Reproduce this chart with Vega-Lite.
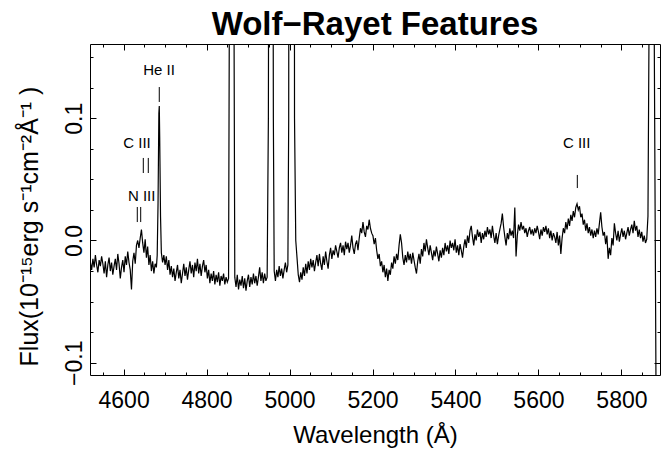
{
  "$schema": "https://vega.github.io/schema/vega-lite/v6.json",
  "width": 570,
  "height": 331,
  "autosize": {"type": "none"},
  "padding": {"left": 90, "top": 44, "right": 1, "bottom": 79},
  "background": "white",
  "title": {
    "text": "Wolf−Rayet Features",
    "font": "Liberation Sans",
    "fontSize": 33,
    "fontWeight": "bold",
    "color": "black",
    "anchor": "middle",
    "frame": "group",
    "baseline": "alphabetic",
    "offset": 8,
    "dy": 32
  },
  "config": {
    "view": {"stroke": "black", "strokeWidth": 1},
    "axis": {
      "domain": false,
      "grid": false,
      "tickColor": "black",
      "tickWidth": 1,
      "labelFont": "Liberation Sans",
      "labelFontSize": 23,
      "labelColor": "black",
      "labelOverlap": false,
      "titleFont": "Liberation Sans",
      "titleFontWeight": "normal",
      "titleColor": "black"
    }
  },
  "datasets": {
    "spectrum": [
      {"wavelength": 4520, "flux": -0.018}, {"wavelength": 4523, "flux": -0.024}, {"wavelength": 4526, "flux": -0.015},
      {"wavelength": 4529, "flux": -0.022}, {"wavelength": 4532, "flux": -0.012}, {"wavelength": 4535, "flux": -0.020},
      {"wavelength": 4538, "flux": -0.026}, {"wavelength": 4541, "flux": -0.016}, {"wavelength": 4544, "flux": -0.021},
      {"wavelength": 4547, "flux": -0.013}, {"wavelength": 4550, "flux": -0.019}, {"wavelength": 4553, "flux": -0.027},
      {"wavelength": 4556, "flux": -0.017}, {"wavelength": 4559, "flux": -0.030}, {"wavelength": 4562, "flux": -0.020},
      {"wavelength": 4565, "flux": -0.014}, {"wavelength": 4568, "flux": -0.025}, {"wavelength": 4571, "flux": -0.018},
      {"wavelength": 4574, "flux": -0.028}, {"wavelength": 4577, "flux": -0.021}, {"wavelength": 4580, "flux": -0.015},
      {"wavelength": 4583, "flux": -0.024}, {"wavelength": 4586, "flux": -0.011}, {"wavelength": 4589, "flux": -0.019},
      {"wavelength": 4592, "flux": -0.031}, {"wavelength": 4595, "flux": -0.022}, {"wavelength": 4598, "flux": -0.016},
      {"wavelength": 4601, "flux": -0.026}, {"wavelength": 4604, "flux": -0.013}, {"wavelength": 4607, "flux": -0.020},
      {"wavelength": 4610, "flux": -0.009}, {"wavelength": 4613, "flux": -0.018}, {"wavelength": 4616, "flux": -0.024},
      {"wavelength": 4619, "flux": -0.040}, {"wavelength": 4622, "flux": -0.017}, {"wavelength": 4625, "flux": -0.010},
      {"wavelength": 4628, "flux": -0.019}, {"wavelength": 4631, "flux": -0.004}, {"wavelength": 4634, "flux": 0.000},
      {"wavelength": 4637, "flux": -0.006}, {"wavelength": 4640, "flux": 0.002}, {"wavelength": 4643, "flux": 0.009},
      {"wavelength": 4646, "flux": -0.002}, {"wavelength": 4649, "flux": -0.010}, {"wavelength": 4652, "flux": 0.001},
      {"wavelength": 4655, "flux": -0.014}, {"wavelength": 4658, "flux": -0.005}, {"wavelength": 4661, "flux": -0.020},
      {"wavelength": 4664, "flux": -0.012}, {"wavelength": 4667, "flux": -0.025}, {"wavelength": 4670, "flux": -0.017},
      {"wavelength": 4673, "flux": -0.027}, {"wavelength": 4676, "flux": -0.019}, {"wavelength": 4679, "flux": -0.022},
      {"wavelength": 4681, "flux": -0.012}, {"wavelength": 4683, "flux": 0.030}, {"wavelength": 4685, "flux": 0.104},
      {"wavelength": 4686, "flux": 0.110}, {"wavelength": 4687, "flux": 0.085}, {"wavelength": 4689, "flux": 0.020},
      {"wavelength": 4691, "flux": -0.010}, {"wavelength": 4694, "flux": -0.018}, {"wavelength": 4697, "flux": -0.012},
      {"wavelength": 4700, "flux": -0.020}, {"wavelength": 4703, "flux": -0.013}, {"wavelength": 4706, "flux": -0.024},
      {"wavelength": 4709, "flux": -0.016}, {"wavelength": 4712, "flux": -0.028}, {"wavelength": 4715, "flux": -0.021},
      {"wavelength": 4718, "flux": -0.030}, {"wavelength": 4721, "flux": -0.023}, {"wavelength": 4724, "flux": -0.033},
      {"wavelength": 4727, "flux": -0.026}, {"wavelength": 4730, "flux": -0.020}, {"wavelength": 4733, "flux": -0.031},
      {"wavelength": 4736, "flux": -0.024}, {"wavelength": 4739, "flux": -0.035}, {"wavelength": 4742, "flux": -0.027},
      {"wavelength": 4745, "flux": -0.019}, {"wavelength": 4748, "flux": -0.029}, {"wavelength": 4751, "flux": -0.022},
      {"wavelength": 4754, "flux": -0.032}, {"wavelength": 4757, "flux": -0.024}, {"wavelength": 4760, "flux": -0.017},
      {"wavelength": 4763, "flux": -0.027}, {"wavelength": 4766, "flux": -0.020}, {"wavelength": 4769, "flux": -0.030},
      {"wavelength": 4772, "flux": -0.018}, {"wavelength": 4775, "flux": -0.025}, {"wavelength": 4778, "flux": -0.015},
      {"wavelength": 4781, "flux": -0.027}, {"wavelength": 4784, "flux": -0.019}, {"wavelength": 4787, "flux": -0.029},
      {"wavelength": 4790, "flux": -0.021}, {"wavelength": 4793, "flux": -0.016}, {"wavelength": 4796, "flux": -0.026},
      {"wavelength": 4799, "flux": -0.020}, {"wavelength": 4802, "flux": -0.031}, {"wavelength": 4805, "flux": -0.024},
      {"wavelength": 4808, "flux": -0.035}, {"wavelength": 4811, "flux": -0.027}, {"wavelength": 4814, "flux": -0.033},
      {"wavelength": 4817, "flux": -0.025}, {"wavelength": 4820, "flux": -0.036}, {"wavelength": 4823, "flux": -0.028},
      {"wavelength": 4826, "flux": -0.034}, {"wavelength": 4829, "flux": -0.026}, {"wavelength": 4832, "flux": -0.037},
      {"wavelength": 4835, "flux": -0.029}, {"wavelength": 4838, "flux": -0.033}, {"wavelength": 4841, "flux": -0.027},
      {"wavelength": 4844, "flux": -0.036}, {"wavelength": 4847, "flux": -0.030}, {"wavelength": 4850, "flux": -0.034},
      {"wavelength": 4853, "flux": -0.031}, {"wavelength": 4855, "flux": 0.200}, {"wavelength": 4858, "flux": 1.000},
      {"wavelength": 4861, "flux": 1.500}, {"wavelength": 4864, "flux": 1.000}, {"wavelength": 4866, "flux": 0.200},
      {"wavelength": 4868, "flux": -0.030}, {"wavelength": 4871, "flux": -0.038}, {"wavelength": 4874, "flux": -0.028},
      {"wavelength": 4877, "flux": -0.040}, {"wavelength": 4880, "flux": -0.032}, {"wavelength": 4883, "flux": -0.037},
      {"wavelength": 4886, "flux": -0.029}, {"wavelength": 4889, "flux": -0.039}, {"wavelength": 4892, "flux": -0.031},
      {"wavelength": 4895, "flux": -0.041}, {"wavelength": 4898, "flux": -0.033}, {"wavelength": 4901, "flux": -0.028},
      {"wavelength": 4904, "flux": -0.038}, {"wavelength": 4907, "flux": -0.030}, {"wavelength": 4910, "flux": -0.036},
      {"wavelength": 4913, "flux": -0.027}, {"wavelength": 4916, "flux": -0.035}, {"wavelength": 4919, "flux": -0.029},
      {"wavelength": 4922, "flux": -0.037}, {"wavelength": 4925, "flux": -0.030}, {"wavelength": 4928, "flux": -0.022},
      {"wavelength": 4931, "flux": -0.033}, {"wavelength": 4934, "flux": -0.026}, {"wavelength": 4937, "flux": -0.035},
      {"wavelength": 4940, "flux": -0.027}, {"wavelength": 4943, "flux": -0.033}, {"wavelength": 4946, "flux": -0.030},
      {"wavelength": 4949, "flux": 0.100}, {"wavelength": 4952, "flux": 0.700}, {"wavelength": 4955, "flux": 1.000},
      {"wavelength": 4958, "flux": 0.700}, {"wavelength": 4961, "flux": 0.100}, {"wavelength": 4963, "flux": -0.025},
      {"wavelength": 4966, "flux": -0.033}, {"wavelength": 4969, "flux": -0.024}, {"wavelength": 4972, "flux": -0.030},
      {"wavelength": 4975, "flux": -0.021}, {"wavelength": 4978, "flux": -0.029}, {"wavelength": 4981, "flux": -0.023},
      {"wavelength": 4984, "flux": -0.031}, {"wavelength": 4987, "flux": -0.024}, {"wavelength": 4990, "flux": -0.018},
      {"wavelength": 4993, "flux": -0.026}, {"wavelength": 4996, "flux": -0.020}, {"wavelength": 4998, "flux": 0.100},
      {"wavelength": 5001, "flux": 1.500}, {"wavelength": 5005, "flux": 3.000}, {"wavelength": 5009, "flux": 1.500},
      {"wavelength": 5012, "flux": 0.100}, {"wavelength": 5015, "flux": 0.000}, {"wavelength": 5018, "flux": -0.014},
      {"wavelength": 5021, "flux": -0.028}, {"wavelength": 5024, "flux": -0.034}, {"wavelength": 5027, "flux": -0.026},
      {"wavelength": 5030, "flux": -0.032}, {"wavelength": 5033, "flux": -0.022}, {"wavelength": 5036, "flux": -0.029},
      {"wavelength": 5039, "flux": -0.019}, {"wavelength": 5042, "flux": -0.027}, {"wavelength": 5045, "flux": -0.017},
      {"wavelength": 5048, "flux": -0.024}, {"wavelength": 5051, "flux": -0.015}, {"wavelength": 5054, "flux": -0.022},
      {"wavelength": 5057, "flux": -0.016}, {"wavelength": 5060, "flux": -0.025}, {"wavelength": 5063, "flux": -0.018},
      {"wavelength": 5066, "flux": -0.012}, {"wavelength": 5069, "flux": -0.021}, {"wavelength": 5072, "flux": -0.011},
      {"wavelength": 5075, "flux": -0.019}, {"wavelength": 5078, "flux": -0.024}, {"wavelength": 5081, "flux": -0.013},
      {"wavelength": 5084, "flux": -0.020}, {"wavelength": 5087, "flux": -0.009}, {"wavelength": 5090, "flux": -0.017},
      {"wavelength": 5093, "flux": -0.023}, {"wavelength": 5096, "flux": -0.012}, {"wavelength": 5099, "flux": -0.006},
      {"wavelength": 5102, "flux": -0.015}, {"wavelength": 5105, "flux": -0.008}, {"wavelength": 5108, "flux": -0.012},
      {"wavelength": 5111, "flux": -0.004}, {"wavelength": 5114, "flux": -0.009}, {"wavelength": 5117, "flux": -0.014},
      {"wavelength": 5120, "flux": -0.006}, {"wavelength": 5123, "flux": -0.002}, {"wavelength": 5126, "flux": -0.010},
      {"wavelength": 5129, "flux": -0.004}, {"wavelength": 5132, "flux": -0.012}, {"wavelength": 5135, "flux": -0.001},
      {"wavelength": 5138, "flux": -0.007}, {"wavelength": 5141, "flux": -0.002}, {"wavelength": 5144, "flux": -0.010},
      {"wavelength": 5147, "flux": -0.004}, {"wavelength": 5150, "flux": 0.004}, {"wavelength": 5153, "flux": -0.006},
      {"wavelength": 5156, "flux": -0.011}, {"wavelength": 5159, "flux": -0.003}, {"wavelength": 5162, "flux": 0.000},
      {"wavelength": 5165, "flux": -0.008}, {"wavelength": 5168, "flux": 0.002}, {"wavelength": 5171, "flux": 0.010},
      {"wavelength": 5174, "flux": 0.006}, {"wavelength": 5177, "flux": 0.015}, {"wavelength": 5180, "flux": 0.007},
      {"wavelength": 5183, "flux": 0.003}, {"wavelength": 5186, "flux": 0.012}, {"wavelength": 5189, "flux": 0.009},
      {"wavelength": 5192, "flux": 0.017}, {"wavelength": 5195, "flux": 0.010}, {"wavelength": 5198, "flux": 0.006},
      {"wavelength": 5201, "flux": 0.004}, {"wavelength": 5204, "flux": -0.003}, {"wavelength": 5207, "flux": 0.002},
      {"wavelength": 5210, "flux": -0.008}, {"wavelength": 5213, "flux": -0.015}, {"wavelength": 5216, "flux": -0.011},
      {"wavelength": 5219, "flux": -0.021}, {"wavelength": 5222, "flux": -0.017}, {"wavelength": 5225, "flux": -0.026},
      {"wavelength": 5228, "flux": -0.020}, {"wavelength": 5231, "flux": -0.030}, {"wavelength": 5234, "flux": -0.023},
      {"wavelength": 5237, "flux": -0.033}, {"wavelength": 5240, "flux": -0.024}, {"wavelength": 5243, "flux": -0.028},
      {"wavelength": 5246, "flux": -0.018}, {"wavelength": 5249, "flux": -0.023}, {"wavelength": 5252, "flux": -0.013},
      {"wavelength": 5255, "flux": -0.019}, {"wavelength": 5258, "flux": -0.011}, {"wavelength": 5261, "flux": -0.016},
      {"wavelength": 5264, "flux": -0.004}, {"wavelength": 5267, "flux": 0.005}, {"wavelength": 5270, "flux": -0.002},
      {"wavelength": 5273, "flux": -0.014}, {"wavelength": 5276, "flux": -0.020}, {"wavelength": 5279, "flux": -0.012},
      {"wavelength": 5282, "flux": -0.018}, {"wavelength": 5285, "flux": -0.009}, {"wavelength": 5288, "flux": -0.016},
      {"wavelength": 5291, "flux": -0.011}, {"wavelength": 5294, "flux": -0.019}, {"wavelength": 5297, "flux": -0.010},
      {"wavelength": 5300, "flux": -0.016}, {"wavelength": 5303, "flux": -0.022}, {"wavelength": 5306, "flux": -0.027},
      {"wavelength": 5309, "flux": -0.017}, {"wavelength": 5312, "flux": -0.011}, {"wavelength": 5315, "flux": -0.019},
      {"wavelength": 5318, "flux": -0.007}, {"wavelength": 5321, "flux": -0.013}, {"wavelength": 5324, "flux": -0.002},
      {"wavelength": 5327, "flux": -0.009}, {"wavelength": 5330, "flux": 0.001}, {"wavelength": 5333, "flux": -0.006},
      {"wavelength": 5336, "flux": -0.012}, {"wavelength": 5339, "flux": -0.004}, {"wavelength": 5342, "flux": -0.010},
      {"wavelength": 5345, "flux": -0.016}, {"wavelength": 5348, "flux": -0.008}, {"wavelength": 5351, "flux": -0.013},
      {"wavelength": 5354, "flux": -0.005}, {"wavelength": 5357, "flux": -0.011}, {"wavelength": 5360, "flux": -0.017},
      {"wavelength": 5363, "flux": -0.008}, {"wavelength": 5366, "flux": -0.014}, {"wavelength": 5369, "flux": -0.006},
      {"wavelength": 5372, "flux": -0.012}, {"wavelength": 5375, "flux": -0.002}, {"wavelength": 5378, "flux": -0.009},
      {"wavelength": 5381, "flux": -0.004}, {"wavelength": 5384, "flux": -0.011}, {"wavelength": 5387, "flux": 0.000},
      {"wavelength": 5390, "flux": -0.006}, {"wavelength": 5393, "flux": -0.002}, {"wavelength": 5396, "flux": -0.008},
      {"wavelength": 5399, "flux": 0.001}, {"wavelength": 5402, "flux": -0.010}, {"wavelength": 5405, "flux": -0.004},
      {"wavelength": 5408, "flux": -0.012}, {"wavelength": 5411, "flux": -0.003}, {"wavelength": 5414, "flux": -0.008},
      {"wavelength": 5417, "flux": -0.014}, {"wavelength": 5420, "flux": -0.005}, {"wavelength": 5423, "flux": 0.001},
      {"wavelength": 5426, "flux": -0.006}, {"wavelength": 5429, "flux": 0.004}, {"wavelength": 5432, "flux": -0.002},
      {"wavelength": 5435, "flux": 0.008}, {"wavelength": 5438, "flux": 0.012}, {"wavelength": 5441, "flux": 0.003},
      {"wavelength": 5444, "flux": -0.004}, {"wavelength": 5447, "flux": 0.005}, {"wavelength": 5450, "flux": 0.000},
      {"wavelength": 5453, "flux": 0.009}, {"wavelength": 5456, "flux": 0.003}, {"wavelength": 5459, "flux": 0.007},
      {"wavelength": 5462, "flux": -0.002}, {"wavelength": 5465, "flux": 0.006}, {"wavelength": 5468, "flux": 0.001},
      {"wavelength": 5471, "flux": 0.008}, {"wavelength": 5474, "flux": 0.003}, {"wavelength": 5477, "flux": 0.011},
      {"wavelength": 5480, "flux": 0.005}, {"wavelength": 5483, "flux": 0.009}, {"wavelength": 5486, "flux": 0.002},
      {"wavelength": 5489, "flux": 0.012}, {"wavelength": 5492, "flux": 0.004}, {"wavelength": 5495, "flux": -0.002},
      {"wavelength": 5498, "flux": 0.006}, {"wavelength": 5501, "flux": -0.003}, {"wavelength": 5504, "flux": 0.004},
      {"wavelength": 5507, "flux": 0.009}, {"wavelength": 5510, "flux": 0.014}, {"wavelength": 5513, "flux": 0.022},
      {"wavelength": 5516, "flux": 0.011}, {"wavelength": 5519, "flux": 0.003}, {"wavelength": 5522, "flux": -0.004},
      {"wavelength": 5525, "flux": 0.006}, {"wavelength": 5528, "flux": 0.001}, {"wavelength": 5531, "flux": 0.010},
      {"wavelength": 5534, "flux": 0.004}, {"wavelength": 5537, "flux": 0.008}, {"wavelength": 5540, "flux": 0.002},
      {"wavelength": 5543, "flux": 0.027}, {"wavelength": 5546, "flux": -0.013}, {"wavelength": 5549, "flux": 0.004},
      {"wavelength": 5552, "flux": 0.013}, {"wavelength": 5555, "flux": 0.008}, {"wavelength": 5558, "flux": 0.015},
      {"wavelength": 5561, "flux": 0.009}, {"wavelength": 5564, "flux": 0.012}, {"wavelength": 5567, "flux": 0.006},
      {"wavelength": 5570, "flux": 0.010}, {"wavelength": 5573, "flux": 0.003}, {"wavelength": 5576, "flux": 0.008},
      {"wavelength": 5579, "flux": 0.011}, {"wavelength": 5582, "flux": 0.005}, {"wavelength": 5585, "flux": 0.009},
      {"wavelength": 5588, "flux": 0.004}, {"wavelength": 5591, "flux": 0.010}, {"wavelength": 5594, "flux": 0.006},
      {"wavelength": 5597, "flux": 0.012}, {"wavelength": 5600, "flux": 0.007}, {"wavelength": 5603, "flux": 0.001},
      {"wavelength": 5606, "flux": 0.009}, {"wavelength": 5609, "flux": 0.004}, {"wavelength": 5612, "flux": 0.011},
      {"wavelength": 5615, "flux": 0.007}, {"wavelength": 5618, "flux": 0.012}, {"wavelength": 5621, "flux": 0.005},
      {"wavelength": 5624, "flux": 0.010}, {"wavelength": 5627, "flux": 0.002}, {"wavelength": 5630, "flux": 0.008},
      {"wavelength": 5633, "flux": 0.000}, {"wavelength": 5636, "flux": 0.006}, {"wavelength": 5639, "flux": 0.003},
      {"wavelength": 5642, "flux": -0.002}, {"wavelength": 5645, "flux": 0.007}, {"wavelength": 5648, "flux": -0.004},
      {"wavelength": 5651, "flux": 0.004}, {"wavelength": 5654, "flux": -0.011}, {"wavelength": 5657, "flux": 0.002},
      {"wavelength": 5660, "flux": 0.010}, {"wavelength": 5663, "flux": 0.006}, {"wavelength": 5666, "flux": 0.015},
      {"wavelength": 5669, "flux": 0.009}, {"wavelength": 5672, "flux": 0.018}, {"wavelength": 5675, "flux": 0.012},
      {"wavelength": 5678, "flux": 0.021}, {"wavelength": 5681, "flux": 0.016}, {"wavelength": 5684, "flux": 0.024},
      {"wavelength": 5687, "flux": 0.019}, {"wavelength": 5690, "flux": 0.027}, {"wavelength": 5693, "flux": 0.030},
      {"wavelength": 5696, "flux": 0.025}, {"wavelength": 5699, "flux": 0.028}, {"wavelength": 5702, "flux": 0.019},
      {"wavelength": 5705, "flux": 0.022}, {"wavelength": 5708, "flux": 0.013}, {"wavelength": 5711, "flux": 0.017},
      {"wavelength": 5714, "flux": 0.008}, {"wavelength": 5717, "flux": 0.014}, {"wavelength": 5720, "flux": 0.006},
      {"wavelength": 5723, "flux": 0.011}, {"wavelength": 5726, "flux": 0.004}, {"wavelength": 5729, "flux": 0.009},
      {"wavelength": 5732, "flux": 0.002}, {"wavelength": 5735, "flux": 0.008}, {"wavelength": 5738, "flux": 0.003},
      {"wavelength": 5741, "flux": 0.010}, {"wavelength": 5744, "flux": 0.005}, {"wavelength": 5747, "flux": 0.014},
      {"wavelength": 5750, "flux": 0.023}, {"wavelength": 5753, "flux": 0.011}, {"wavelength": 5756, "flux": 0.004},
      {"wavelength": 5759, "flux": 0.007}, {"wavelength": 5762, "flux": -0.003}, {"wavelength": 5765, "flux": 0.004},
      {"wavelength": 5768, "flux": -0.015}, {"wavelength": 5771, "flux": -0.006}, {"wavelength": 5774, "flux": -0.012},
      {"wavelength": 5777, "flux": 0.002}, {"wavelength": 5780, "flux": -0.004}, {"wavelength": 5783, "flux": 0.014},
      {"wavelength": 5786, "flux": 0.006}, {"wavelength": 5789, "flux": 0.000}, {"wavelength": 5792, "flux": 0.008},
      {"wavelength": 5795, "flux": -0.001}, {"wavelength": 5798, "flux": 0.005}, {"wavelength": 5801, "flux": 0.010},
      {"wavelength": 5804, "flux": 0.003}, {"wavelength": 5807, "flux": 0.008}, {"wavelength": 5810, "flux": 0.001},
      {"wavelength": 5813, "flux": 0.006}, {"wavelength": 5816, "flux": 0.011}, {"wavelength": 5819, "flux": 0.004},
      {"wavelength": 5822, "flux": 0.009}, {"wavelength": 5825, "flux": 0.013}, {"wavelength": 5828, "flux": 0.006},
      {"wavelength": 5831, "flux": 0.016}, {"wavelength": 5834, "flux": 0.008}, {"wavelength": 5837, "flux": 0.012},
      {"wavelength": 5840, "flux": 0.003}, {"wavelength": 5843, "flux": 0.009}, {"wavelength": 5846, "flux": 0.002},
      {"wavelength": 5849, "flux": 0.007}, {"wavelength": 5852, "flux": -0.001}, {"wavelength": 5855, "flux": 0.004},
      {"wavelength": 5858, "flux": -0.002}, {"wavelength": 5861, "flux": 0.001}, {"wavelength": 5864, "flux": 0.020},
      {"wavelength": 5867, "flux": 0.200}, {"wavelength": 5871, "flux": 0.900}, {"wavelength": 5875, "flux": 0.450},
      {"wavelength": 5886, "flux": -0.300}
    ],
    "markers": [
      {"line": "He II", "wavelength": 4686, "low": 0.1133, "high": 0.1255},
      {"line": "C III", "wavelength": 4647.5, "low": 0.0552, "high": 0.0675},
      {"line": "C III", "wavelength": 4659.5, "low": 0.0552, "high": 0.0675},
      {"line": "N III", "wavelength": 4633, "low": 0.0151, "high": 0.0274},
      {"line": "N III", "wavelength": 4641.2, "low": 0.0151, "high": 0.0274},
      {"line": "C III", "wavelength": 5693.7, "low": 0.0429, "high": 0.0536}
    ],
    "labels": [
      {"label": "He II", "wavelength": 4685.3, "flux": 0.1394},
      {"label": "C III", "wavelength": 4632.3, "flux": 0.0797},
      {"label": "N III", "wavelength": 4643.6, "flux": 0.0364},
      {"label": "C III", "wavelength": 5692.2, "flux": 0.0797}
    ]
  },
  "layer": [
    {
      "data": {"name": "spectrum"},
      "mark": {"type": "line", "color": "black", "strokeWidth": 1.2, "clip": true, "interpolate": "linear"},
      "encoding": {
        "x": {
          "field": "wavelength", "type": "quantitative",
          "scale": {"domain": [4519, 5893], "nice": false, "zero": false},
          "axis": {
            "orient": "bottom",
            "values": [4550, 4600, 4650, 4700, 4750, 4800, 4850, 4900, 4950, 5000, 5050, 5100, 5150, 5200, 5250, 5300, 5350, 5400, 5450, 5500, 5550, 5600, 5650, 5700, 5750, 5800, 5850],
            "format": "d",
            "labelExpr": "datum.value % 200 === 0 ? datum.label : ''",
            "tickSize": {"condition": {"test": "datum.value % 200 === 0", "value": -6}, "value": -3},
            "labelPadding": 20,
            "title": "Wavelength (Å)",
            "titleFontSize": 24,
            "titlePadding": 8
          }
        },
        "y": {
          "field": "flux", "type": "quantitative",
          "scale": {"domain": [-0.110, 0.1607], "nice": false, "zero": false},
          "axis": {
            "orient": "left",
            "values": [-0.1, -0.075, -0.05, -0.025, 0, 0.025, 0.05, 0.075, 0.1, 0.125, 0.15],
            "format": ".1f",
            "labelExpr": "abs(datum.value * 10 - round(datum.value * 10)) < 0.000001 ? datum.label : ''",
            "tickSize": {"condition": {"test": "abs(datum.value * 10 - round(datum.value * 10)) < 0.000001", "value": -6}, "value": -3},
            "labelAngle": -90,
            "labelAlign": "center",
            "labelBaseline": "bottom",
            "labelPadding": 10,
            "title": "Flux(10⁻¹⁵erg s⁻¹cm⁻²Å⁻¹ )",
            "titleFontSize": 25,
            "titlePadding": 18,
            "titleY": 182
          }
        }
      }
    },
    {
      "data": {"name": "markers"},
      "mark": {"type": "rule", "color": "black", "strokeWidth": 1},
      "encoding": {
        "x": {
          "field": "wavelength", "type": "quantitative",
          "axis": {
            "orient": "top",
            "values": [4550, 4600, 4650, 4700, 4750, 4800, 4850, 4900, 4950, 5000, 5050, 5100, 5150, 5200, 5250, 5300, 5350, 5400, 5450, 5500, 5550, 5600, 5650, 5700, 5750, 5800, 5850],
            "labels": false,
            "title": null,
            "tickSize": {"condition": {"test": "datum.value % 200 === 0", "value": -6}, "value": -3}
          }
        },
        "y": {
          "field": "low", "type": "quantitative",
          "axis": {
            "orient": "right",
            "values": [-0.1, -0.075, -0.05, -0.025, 0, 0.025, 0.05, 0.075, 0.1, 0.125, 0.15],
            "labels": false,
            "title": null,
            "tickSize": {"condition": {"test": "abs(datum.value * 10 - round(datum.value * 10)) < 0.000001", "value": -6}, "value": -3}
          }
        },
        "y2": {"field": "high"}
      }
    },
    {
      "data": {"name": "labels"},
      "mark": {"type": "text", "font": "Liberation Sans", "fontSize": 15, "color": "black", "align": "center", "baseline": "middle"},
      "encoding": {
        "x": {"field": "wavelength", "type": "quantitative", "axis": null},
        "y": {"field": "flux", "type": "quantitative", "axis": null},
        "text": {"field": "label"}
      }
    }
  ],
  "resolve": {"axis": {"x": "independent", "y": "independent"}}
}
